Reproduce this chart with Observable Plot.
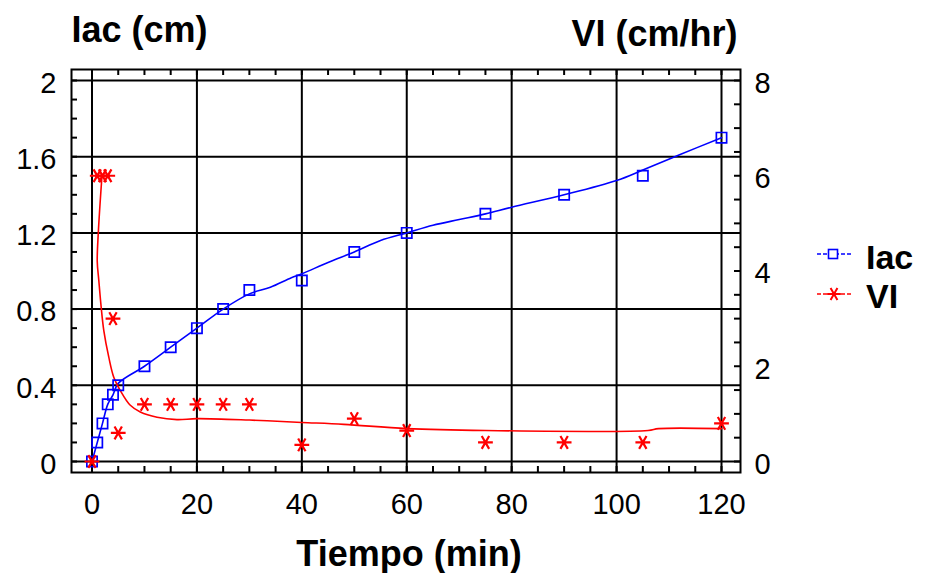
<!DOCTYPE html>
<html>
<head>
<meta charset="utf-8">
<script src="https://cdn.jsdelivr.net/npm/d3@7"></script>
<script src="https://cdn.jsdelivr.net/npm/@observablehq/plot@0.6"></script>
<style>
  body { margin: 0; background: #fff; }
  #chart { position: relative; width: 926px; height: 573px; }
</style>
</head>
<body>
<div id="chart"></div>
<script>
// ---- data ----
const iacTime   = [0, 1, 2, 3, 4, 5, 10, 15, 20, 25, 30, 40, 50, 60, 75, 90, 105, 120];
const iacValues = [0, 0.1, 0.2, 0.3, 0.35, 0.4, 0.5, 0.6, 0.7, 0.8, 0.9, 0.95, 1.1, 1.2, 1.3, 1.4, 1.5, 1.7];

const viTime   = [0, 1, 2, 3, 4, 5, 10, 15, 20, 25, 30, 40, 50, 60, 75, 90, 105, 120];
const viValues = [0, 6, 6, 6, 3, 0.6, 1.2, 1.2, 1.2, 1.2, 1.2, 0.35, 0.9, 0.65, 0.4, 0.4, 0.4, 0.8];

// smoothed fitted curves (as drawn in the reference)
const iacFitTime   = [0, 1, 2, 3, 4, 5, 10, 15, 20, 25, 30, 34, 38, 40, 45, 50, 55, 60, 65, 70, 75, 80, 90, 100, 105, 112, 120];
const iacFitValues = [0, 0.1, 0.2, 0.3, 0.35, 0.41, 0.5, 0.6, 0.7, 0.8, 0.88, 0.915, 0.965, 0.985, 1.045, 1.1, 1.16, 1.2, 1.24, 1.27, 1.3, 1.335, 1.4, 1.475, 1.53, 1.61, 1.7];

const viFitTime   = [1.9, 1.2, 1.0, 1.3, 1.75, 2.25, 3.2, 4.15, 5.4, 7.3, 9.2, 12.4, 16.2, 20, 30, 40, 48, 60, 75, 106, 108, 120];
const viFitValues = [6.0, 4.8, 4.2, 3.8, 3.24, 2.75, 2.19, 1.77, 1.49, 1.18, 1.04, 0.93, 0.88, 0.9, 0.87, 0.82, 0.78, 0.69, 0.65, 0.65, 0.69, 0.69];

// axes
const xTicks   = [0, 20, 40, 60, 80, 100, 120];
const iacTicks = [0, 0.4, 0.8, 1.2, 1.6, 2];
const viTicks  = [0, 2, 4, 6, 8];
const iacMax = 2, viMax = 8;

const titleIac = "Iac (cm)";
const titleVI = "VI (cm/hr)";
const titleX = "Tiempo (min)";
const seriesNames = ["Iac", "VI"];
const colors = { Iac: "#0000ff", VI: "#ff0000" };

// ---- build tables ----
const ratio = viMax / iacMax;
const iacData = iacTime.map((t, i) => ({ t, v: iacValues[i] }));
const viData = viTime.map((t, i) => ({ t, v: viValues[i] }));
const iacFit = iacFitTime.map((t, i) => ({ t, v: iacFitValues[i] }));
const viFit = viFitTime.map((t, i) => ({ t, v: viFitValues[i] }));

const minorX = d3.range(0, 121, 5);
const minorIac = d3.range(0, 21).map(i => i / 10);
const minorVI = d3.range(0, 17).map(i => i / 2);

const FONT = "'Liberation Sans', Arial, Helvetica, sans-serif";
const black = "#000";

const W = 926, H = 573, ML = 71, MR = 186, MT = 69, MB = 101;
const frameW = W - ML - MR, frameH = H - MT - MB, TICK = 6;

const plot = Plot.plot({
  width: W,
  height: H,
  marginLeft: ML,
  marginRight: MR,
  marginTop: MT,
  marginBottom: MB,
  style: { fontFamily: FONT, background: "#fff", color: "#000", overflow: "visible" },
  x: { domain: [0, 120], insetLeft: 20.5, insetRight: 19 },
  y: { domain: [0, iacMax], inset: 11 },
  marks: [
    // grid
    Plot.gridX(xTicks, { stroke: black, strokeOpacity: 1, strokeWidth: 2 }),
    Plot.gridY(iacTicks, { stroke: black, strokeOpacity: 1, strokeWidth: 2 }),
    // minor inward ticks
    Plot.tickX(minorX, { x: d => d, stroke: black, strokeWidth: 2, insetTop: frameH - TICK }),
    Plot.tickX(minorX, { x: d => d, stroke: black, strokeWidth: 2, insetBottom: frameH - TICK }),
    Plot.tickY(minorIac, { y: d => d, stroke: black, strokeWidth: 2, insetRight: frameW - TICK }),
    Plot.tickY(minorVI, { y: d => d / ratio, stroke: black, strokeWidth: 2, insetLeft: frameW - TICK }),
    Plot.frame({ stroke: black, strokeWidth: 2 }),
    // tick labels
    Plot.axisX(xTicks, { anchor: "bottom", tickSize: 0, tickPadding: 21, fontSize: 29, label: null, tickFormat: d => String(d) }),
    Plot.axisY(iacTicks, { anchor: "left", tickSize: 0, tickPadding: 15, dy: 3, fontSize: 29, label: null, tickFormat: d => String(d) }),
    Plot.axisY(viTicks.map(v => v / ratio), { anchor: "right", tickSize: 0, tickPadding: 14, dy: 3, fontSize: 29, label: null, tickFormat: d => String(Math.round(d * ratio)) }),
    // curves
    Plot.line(iacFit, { x: "t", y: "v", stroke: colors.Iac, strokeWidth: 1.6, curve: "catmull-rom" }),
    Plot.line(viFit, { x: "t", y: d => d.v / ratio, stroke: colors.VI, strokeWidth: 1.6, curve: "catmull-rom" }),
    // markers
    Plot.dot(iacData, { x: "t", y: "v", symbol: "square", r: 5.8, fill: "none", stroke: colors.Iac, strokeWidth: 1.7 }),
    Plot.dot(viData, { x: "t", y: d => d.v / ratio, symbol: "asterisk", rotate: 90, r: 7, stroke: colors.VI, strokeWidth: 2.2 }),
    // titles
    Plot.text([titleIac], { text: d => d, frameAnchor: "top-left", textAnchor: "start", lineAnchor: "bottom", dx: 0, dy: -28, fontSize: 36, fontWeight: "bold", fill: black }),
    Plot.text([titleVI], { text: d => d, frameAnchor: "top-right", textAnchor: "end", lineAnchor: "bottom", dx: -3, dy: -24, fontSize: 36, fontWeight: "bold", fill: black }),
    Plot.text([titleX], { text: d => d, frameAnchor: "bottom", lineAnchor: "bottom", dx: 3, dy: 93, fontSize: 36, fontWeight: "bold", fill: black })
  ]
});

document.getElementById("chart").appendChild(plot);

// ---- legend (right side) ----
const svg = d3.select(plot);
const lg = svg.append("g").attr("font-family", FONT).attr("text-anchor", "start");
const legendRows = [
  { name: seriesNames[0], y: 254, textY: 268.5 },
  { name: seriesNames[1], y: 294, textY: 307.5 }
];
legendRows.forEach((row, i) => {
  const c = colors[row.name];
  lg.append("line").attr("x1", 817).attr("x2", 851).attr("y1", row.y).attr("y2", row.y)
    .attr("stroke", c).attr("stroke-width", 1.6).attr("stroke-dasharray", "4,2");
  if (i === 0) {
    lg.append("rect").attr("x", 828.5).attr("y", row.y - 4.5).attr("width", 9).attr("height", 9)
      .attr("fill", "#fff").attr("stroke", c).attr("stroke-width", 1.6);
  } else {
    lg.append("path").attr("transform", `translate(834,${row.y}) rotate(90)`)
      .attr("d", d3.symbol(d3.symbolAsterisk, Math.PI * 6.5 * 6.5)())
      .attr("fill", "none").attr("stroke", c).attr("stroke-width", 2);
  }
  lg.append("text").attr("x", 866).attr("y", row.textY).attr("font-size", 34)
    .attr("font-weight", "bold").attr("fill", "#000").attr("text-anchor", "start").text(row.name);
});
</script>
</body>
</html>
